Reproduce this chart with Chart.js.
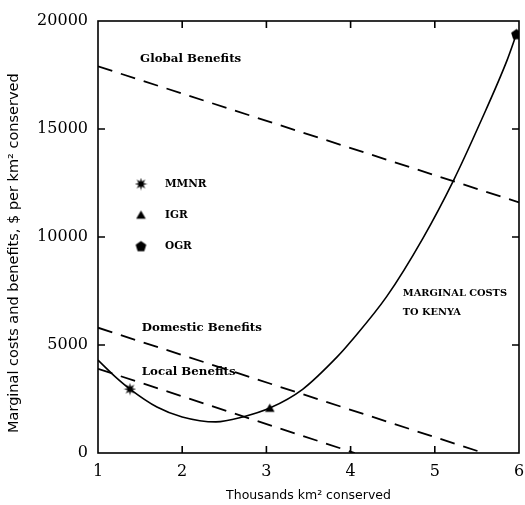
<!DOCTYPE html>
<html>
<head>
<meta charset="utf-8">
<script src="https://cdn.jsdelivr.net/npm/chart.js@4/dist/chart.umd.min.js"></script>
<style>
  html, body { margin: 0; padding: 0; background: #ffffff; }
  #wrap { width: 525px; height: 505px; }
</style>
</head>
<body>
<div id="wrap"><canvas id="c" width="525" height="505"></canvas></div>
<script>
// ---- data ----
const xTicks = [1, 2, 3, 4, 5, 6];
const yTicks = [0, 5000, 10000, 15000, 20000];

const costX    = [1.0, 1.2, 1.38, 1.7, 2.0, 2.4, 2.72, 3.04, 3.43, 3.84, 4.0, 4.43, 4.86, 5.22, 5.54, 5.86, 5.97];
const costVals = [4300, 3550, 2960, 2130, 1670, 1440, 1670, 2080, 2950, 4450, 5150, 7250, 9950, 12600, 15300, 18200, 19400];

const globalX = [1, 6];
const globalVals = [17900, 11600];
const domesticX = [1, 5.58];
const domesticVals = [5800, 0];
const localX = [1, 4.05];
const localVals = [3900, 0];

const mmnrPoint = [1.38, 2960];
const igrPoint  = [3.04, 2080];
const ogrPoint  = [5.97, 19400];

const seriesNames = ['MMNR', 'IGR', 'OGR'];

// ---- marker images ----
function makeCanvas(size, drawFn) {
  const c = document.createElement('canvas');
  c.width = size; c.height = size;
  const g = c.getContext('2d');
  g.fillStyle = '#000';
  drawFn(g, size / 2);
  return c;
}
const starImg = makeCanvas(13, (g, m) => {
  g.beginPath();
  const n = 8, ro = 6.2, ri = 2.6;
  for (let i = 0; i < n * 2; i++) {
    const r = i % 2 === 0 ? ro : ri;
    const a = -Math.PI / 2 + i * Math.PI / n;
    const px = m + r * Math.cos(a), py = m + r * Math.sin(a);
    if (i === 0) g.moveTo(px, py); else g.lineTo(px, py);
  }
  g.closePath(); g.fill();
});
const triImg = makeCanvas(11, (g, m) => {
  g.beginPath();
  g.moveTo(m, m - 4.5); g.lineTo(m + 4.8, m + 3.8); g.lineTo(m - 4.8, m + 3.8);
  g.closePath(); g.fill();
});
const pentImg = makeCanvas(13, (g, m) => {
  g.beginPath();
  for (let i = 0; i < 5; i++) {
    const a = -Math.PI / 2 + i * 2 * Math.PI / 5;
    const px = m + 5.6 * Math.cos(a), py = m + 0.6 + 5.6 * Math.sin(a);
    if (i === 0) g.moveTo(px, py); else g.lineTo(px, py);
  }
  g.closePath(); g.fill();
});
const markerImgs = [starImg, triImg, pentImg];

function pts(xs, ys) { return xs.map((x, i) => ({ x: x, y: ys[i] })); }

const serifBold = '"DejaVu Serif", serif';

// frame + inward ticks + annotations + in-plot legend
const decor = {
  id: 'decor',
  afterDraw(chart) {
    const { ctx, chartArea: a, scales } = chart;
    const xs = scales.x, ys = scales.y;
    ctx.save();
    ctx.strokeStyle = '#000';
    ctx.lineWidth = 1.6;
    ctx.strokeRect(a.left, a.top, a.right - a.left, a.bottom - a.top);
    const tl = 7;
    xTicks.slice(1, -1).forEach(v => {
      const p = xs.getPixelForValue(v);
      ctx.beginPath();
      ctx.moveTo(p, a.bottom); ctx.lineTo(p, a.bottom - tl);
      ctx.moveTo(p, a.top); ctx.lineTo(p, a.top + tl);
      ctx.stroke();
    });
    yTicks.slice(1, -1).forEach(v => {
      const p = ys.getPixelForValue(v);
      ctx.beginPath();
      ctx.moveTo(a.left, p); ctx.lineTo(a.left + tl, p);
      ctx.moveTo(a.right, p); ctx.lineTo(a.right - tl, p);
      ctx.stroke();
    });

    // annotations
    ctx.fillStyle = '#000';
    ctx.textBaseline = 'middle';
    ctx.textAlign = 'left';
    const notes = [
      ['Global Benefits', 1.5, 18240, 11.8],
      ['Domestic Benefits', 1.52, 5790, 11.8],
      ['Local Benefits', 1.52, 3750, 11.8],
      ['MARGINAL COSTS', 4.62, 7400, 9.8],
      ['TO KENYA', 4.62, 6530, 9.8]
    ];
    notes.forEach(n => {
      ctx.font = 'bold ' + n[3] + 'px ' + serifBold;
      ctx.fillText(n[0], xs.getPixelForValue(n[1]), ys.getPixelForValue(n[2]));
    });

    // legend
    ctx.font = 'bold 10.5px ' + serifBold;
    const lx = a.left + 43, tx = a.left + 67;
    const ly0 = a.top + 163, dy = 31;
    seriesNames.forEach((name, i) => {
      const y = ly0 + i * dy;
      const img = markerImgs[i];
      ctx.drawImage(img, lx - img.width / 2, y - img.height / 2);
      ctx.fillText(name, tx, y);
    });
    ctx.restore();
  }
};

new Chart(document.getElementById('c'), {
  type: 'scatter',
  data: {
    datasets: [
      { label: 'Marginal costs to Kenya', data: pts(costX, costVals), showLine: true,
        borderColor: '#000', borderWidth: 1.6, pointRadius: 0, cubicInterpolationMode: 'monotone', fill: false },
      { label: 'Global Benefits', data: pts(globalX, globalVals), showLine: true,
        borderColor: '#000', borderWidth: 1.8, borderDash: [15, 9], pointRadius: 0 },
      { label: 'Domestic Benefits', data: pts(domesticX, domesticVals), showLine: true,
        borderColor: '#000', borderWidth: 1.8, borderDash: [15, 9], pointRadius: 0 },
      { label: 'Local Benefits', data: pts(localX, localVals), showLine: true,
        borderColor: '#000', borderWidth: 1.8, borderDash: [15, 9], pointRadius: 0 },
      { label: 'MMNR', data: [{ x: mmnrPoint[0], y: mmnrPoint[1] }], pointStyle: starImg },
      { label: 'IGR', data: [{ x: igrPoint[0], y: igrPoint[1] }], pointStyle: triImg },
      { label: 'OGR', data: [{ x: ogrPoint[0], y: ogrPoint[1] }], pointStyle: pentImg }
    ]
  },
  options: {
    responsive: false,
    animation: false,
    layout: { padding: { top: 21, right: 6, left: 0, bottom: 0 } },
    plugins: { legend: { display: false }, tooltip: { enabled: false } },
    scales: {
      x: {
        type: 'linear', min: 1, max: 6,
        afterBuildTicks: s => { s.ticks = xTicks.map(v => ({ value: v })); },
        afterFit: s => { s.height = 52; s.paddingRight = 0; s.paddingLeft = 0; },
        grid: { display: false, drawTicks: false },
        border: { display: false },
        ticks: { color: '#000', padding: 9, font: { family: serifBold, size: 16 }, callback: v => String(v) },
        title: { display: true, text: 'Thousands km² conserved', color: '#000', padding: { top: 0, bottom: 2 },
                 font: { family: '"DejaVu Sans", sans-serif', size: 12.5 } }
      },
      y: {
        min: 0, max: 20000,
        afterBuildTicks: s => { s.ticks = yTicks.map(v => ({ value: v })); },
        afterFit: s => { s.width = 98; s.paddingTop = 0; s.paddingBottom = 0; },
        grid: { display: false, drawTicks: false },
        border: { display: false },
        ticks: { color: '#000', padding: 10, font: { family: serifBold, size: 16 }, callback: v => String(v) },
        title: { display: true, text: 'Marginal costs and benefits, $ per km² conserved       ', color: '#000',
                 padding: { top: 6, bottom: 0 }, font: { family: '"DejaVu Sans", sans-serif', size: 14.5 } }
      }
    }
  },
  plugins: [decor]
});
</script>
</body>
</html>
